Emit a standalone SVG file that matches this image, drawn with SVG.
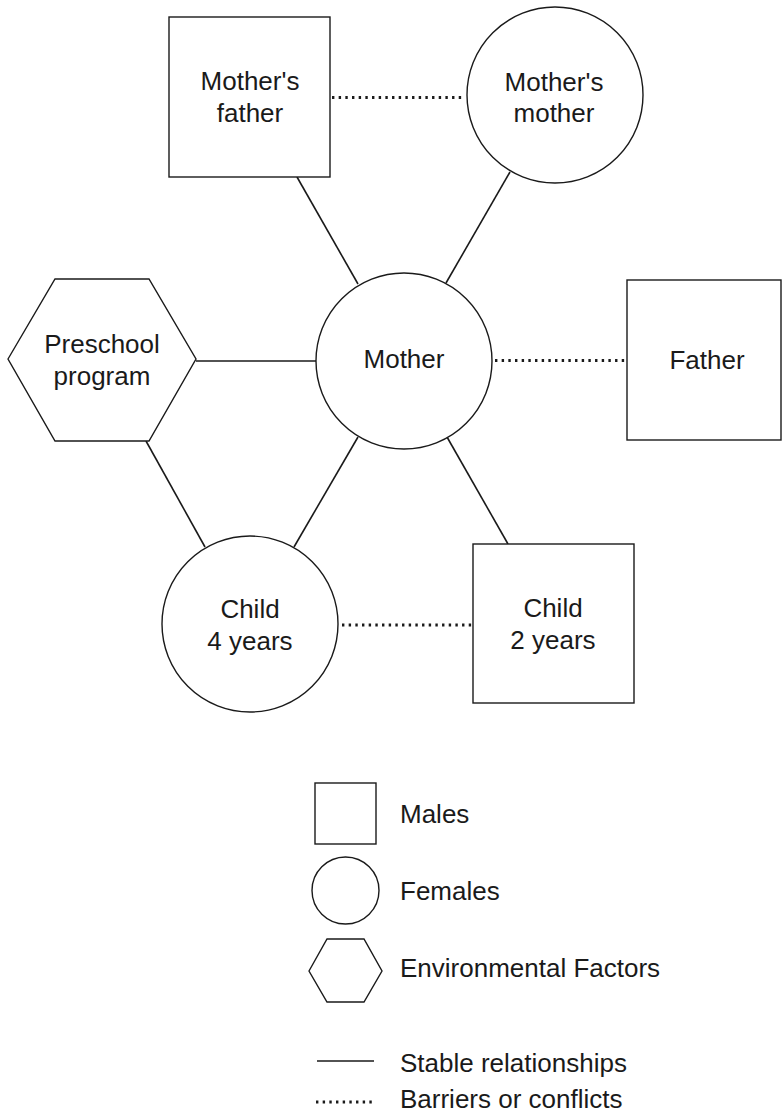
<svg xmlns="http://www.w3.org/2000/svg" width="782" height="1114" viewBox="0 0 782 1114">
<style>
.shape{fill:#fff;stroke:#1a1a1a;stroke-width:1.4}
.solid{stroke:#1a1a1a;stroke-width:1.6;fill:none}
.dot{stroke:#1a1a1a;stroke-width:3;stroke-dasharray:2.4 4.27;fill:none}
text{font-family:"Liberation Sans",Arial,sans-serif;font-size:26px;fill:#1a1a1a}
.c{text-anchor:middle}
</style>
<rect width="782" height="1114" fill="#fff"/>
<g id="connectors">
<line class="solid" x1="297" y1="177" x2="358" y2="284"/>
<line class="solid" x1="510" y1="172" x2="446" y2="283"/>
<line class="solid" x1="196" y1="361" x2="316" y2="361"/>
<line class="solid" x1="358" y1="437" x2="294" y2="547"/>
<line class="solid" x1="146" y1="441" x2="205" y2="547"/>
<line class="solid" x1="447" y1="437" x2="508" y2="544"/>
<line class="dot" x1="332" y1="97.5" x2="465" y2="97.5"/>
<line class="dot" x1="495" y1="360.5" x2="627" y2="360.5"/>
<line class="dot" x1="342" y1="625" x2="473" y2="625"/>
</g>
<g id="mothers-father">
<rect class="shape" x="169" y="17" width="161" height="160"/>
<text class="c" x="250" y="90">Mother's</text>
<text class="c" x="250" y="122">father</text>
</g>
<g id="mothers-mother">
<circle class="shape" cx="555" cy="95" r="88"/>
<text class="c" x="554" y="91">Mother's</text>
<text class="c" x="554" y="122">mother</text>
</g>
<g id="preschool">
<polygon class="shape" points="8,359 55,279 149,279 196,359 149,441 55,441"/>
<text class="c" x="102" y="353">Preschool</text>
<text class="c" x="102" y="385">program</text>
</g>
<g id="mother">
<circle class="shape" cx="404" cy="361" r="88"/>
<text class="c" x="404" y="368">Mother</text>
</g>
<g id="father">
<rect class="shape" x="627" y="280" width="154" height="160"/>
<text class="c" x="707" y="369">Father</text>
</g>
<g id="child4">
<circle class="shape" cx="250" cy="624" r="88"/>
<text class="c" x="250" y="618">Child</text>
<text class="c" x="250" y="650">4 years</text>
</g>
<g id="child2">
<rect class="shape" x="473" y="544" width="161" height="159"/>
<text class="c" x="553" y="617">Child</text>
<text class="c" x="553" y="649">2 years</text>
</g>
<g id="legend">
<rect class="shape" x="315" y="783" width="61" height="61"/>
<text x="400" y="823">Males</text>
<circle class="shape" cx="345.5" cy="890.5" r="33.5"/>
<text x="400" y="900">Females</text>
<polygon class="shape" points="309,971 327,939 364,939 382,971 364,1002 327,1002"/>
<text x="400" y="977">Environmental Factors</text>
<line class="solid" x1="317" y1="1061" x2="374" y2="1061"/>
<text x="400" y="1072">Stable relationships</text>
<line class="dot" x1="316" y1="1102" x2="373" y2="1102"/>
<text x="400" y="1108">Barriers or conflicts</text>
</g>
</svg>
